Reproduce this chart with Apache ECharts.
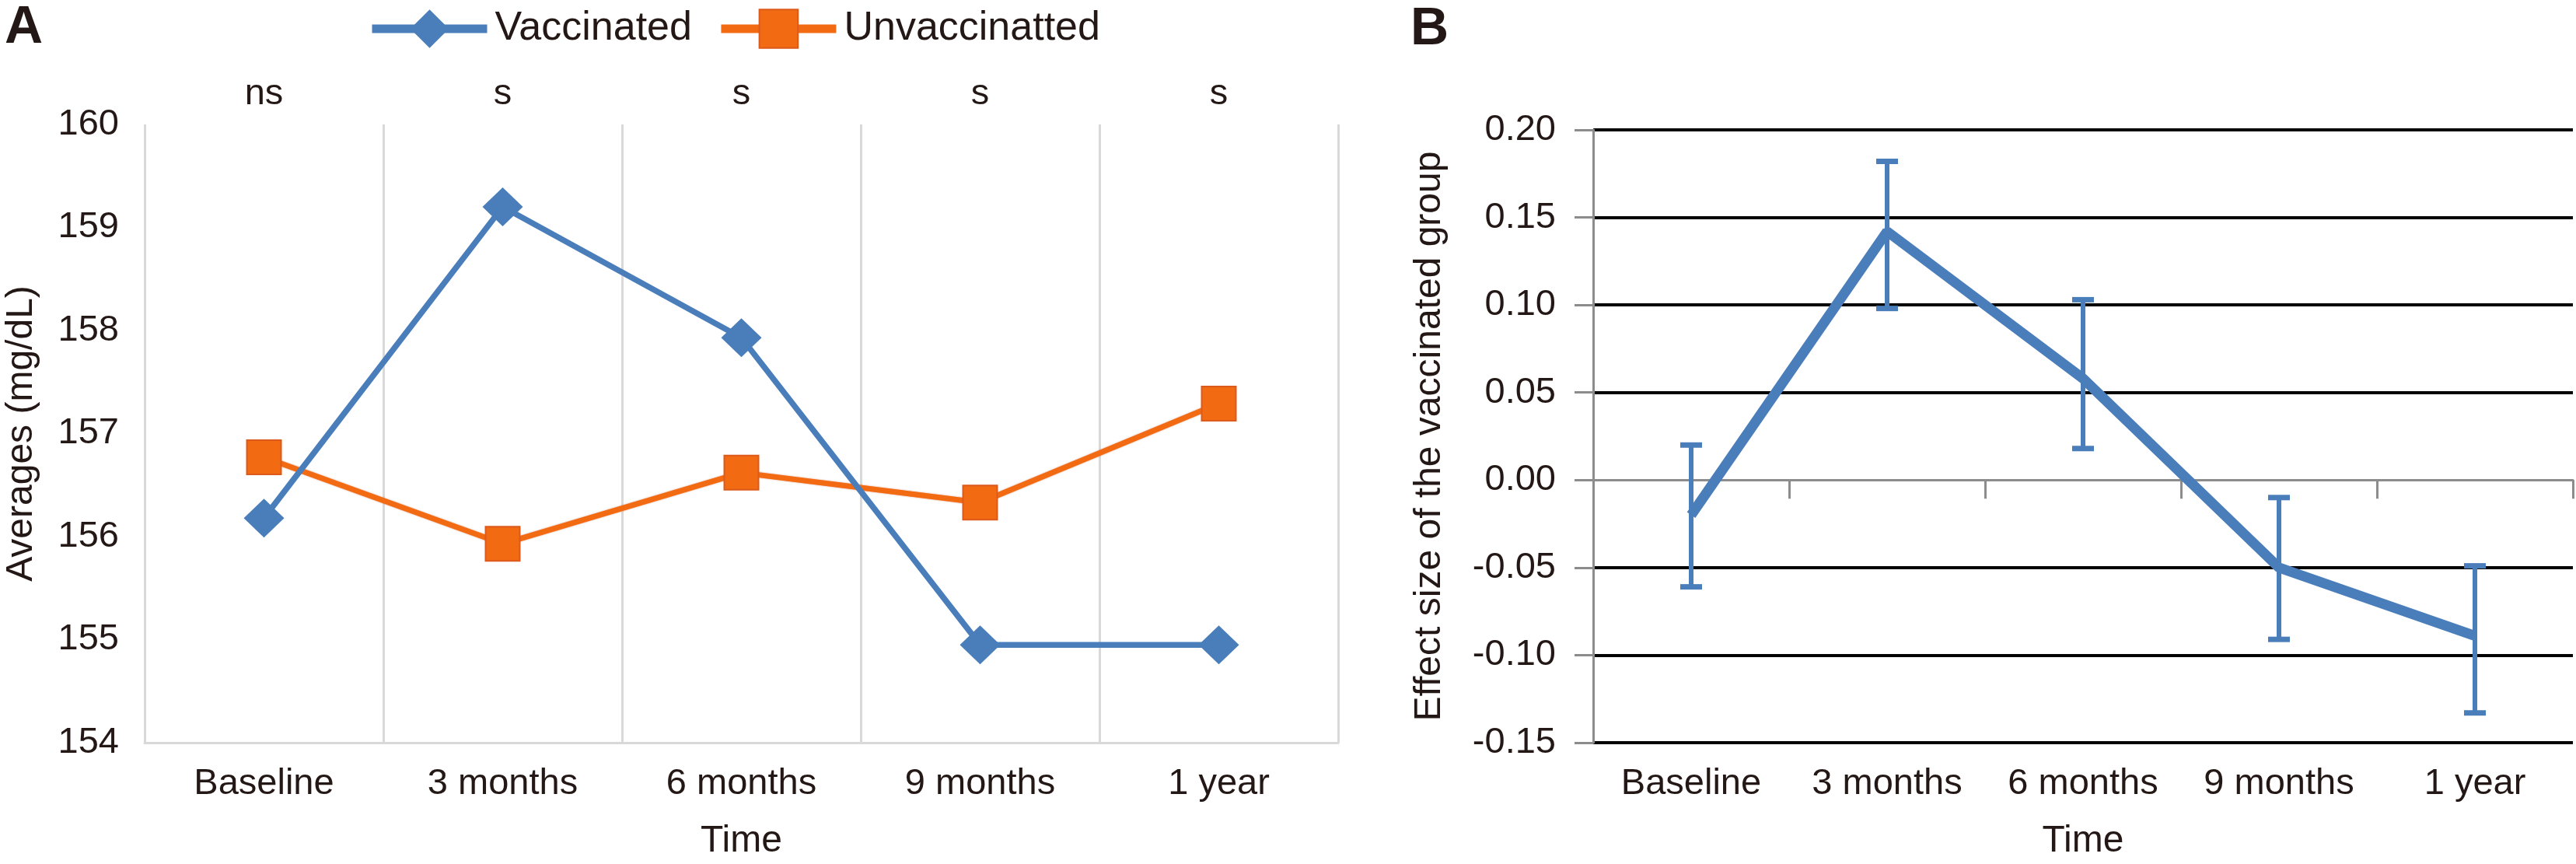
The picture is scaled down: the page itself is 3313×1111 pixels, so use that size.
<!DOCTYPE html>
<html><head><meta charset="utf-8">
<script src="https://cdn.jsdelivr.net/npm/echarts@6/dist/echarts.min.js"></script>
<style>html,body{margin:0;padding:0;background:#fff}#c{width:3313px;height:1111px}</style>
</head><body><div id="c"></div>
<script>
// ---- data ----
const categories = ['Baseline', '3 months', '6 months', '9 months', '1 year'];
const significance = ['ns', 's', 's', 's', 's'];
const seriesNames = ['Vaccinated', 'Unvaccinatted'];
const vaccinated = [156.18, 159.20, 157.93, 154.95, 154.95];
const unvaccinated = [156.77, 155.93, 156.62, 156.33, 157.29];
const effectSize = [-0.020, 0.142, 0.058, -0.050, -0.089];
const effectUpper = [0.020, 0.182, 0.103, -0.010, -0.049];
const effectLower = [-0.061, 0.098, 0.018, -0.091, -0.133];
const panelLabels = ['A', 'B'];

// ---- styles ----
const BLUE = '#4a7ebb';
const ORANGE = '#f26a12';
const TXT = '#231815';
const FONT = 'Liberation Sans';

const chart = echarts.init(document.getElementById('c'), null, {renderer: 'canvas'});

const errorData = categories.map((c, i) => [i, effectLower[i], effectUpper[i]]);

const option = {
  animation: false,
  backgroundColor: '#fff',
  textStyle: {fontFamily: FONT, color: TXT},
  graphic: [
    {type: 'text', left: 6, top: 2, style: {text: panelLabels[0], font: 'bold 68px "Liberation Sans"', fill: TXT}},
    {type: 'text', left: 1814, top: 4, style: {text: panelLabels[1], font: 'bold 68px "Liberation Sans"', fill: TXT}}
  ],
  legend: {
    left: 468, top: 6,
    itemWidth: 148, itemHeight: 62, itemGap: 32,
    data: seriesNames,
    lineStyle: {width: 11},
    textStyle: {fontFamily: FONT, fontSize: 52, color: TXT, padding: [0, 0, 0, 5]}
  },
  grid: [
    {left: 186, top: 160, width: 1535, height: 796},
    {left: 2049, top: 167, width: 1260, height: 788}
  ],
  xAxis: [
    {
      gridIndex: 0, type: 'category', data: categories, boundaryGap: true, position: 'bottom',
      axisLine: {show: true, onZero: false, lineStyle: {color: '#d9d9d9', width: 3}},
      axisTick: {show: false},
      splitLine: {show: true, lineStyle: {color: '#d9d9d9', width: 3}},
      axisLabel: {fontFamily: FONT, fontSize: 47, color: TXT, margin: 30},
      name: 'Time', nameLocation: 'middle', nameGap: 103,
      nameTextStyle: {fontFamily: FONT, fontSize: 48, color: TXT}
    },
    {
      gridIndex: 0, type: 'category', data: significance, boundaryGap: true, position: 'top',
      axisLine: {show: false}, axisTick: {show: false}, splitLine: {show: false},
      axisLabel: {fontFamily: FONT, fontSize: 47, color: TXT, margin: 15}
    },
    {
      gridIndex: 1, type: 'category', data: categories, boundaryGap: true, position: 'bottom',
      axisLine: {show: false, onZero: false},
      axisTick: {show: false}, splitLine: {show: false},
      axisLabel: {fontFamily: FONT, fontSize: 47, color: TXT, margin: 30},
      name: 'Time', nameLocation: 'middle', nameGap: 103,
      nameTextStyle: {fontFamily: FONT, fontSize: 48, color: TXT}
    },
    {
      gridIndex: 1, type: 'category', data: categories, boundaryGap: true, position: 'bottom',
      axisLine: {show: true, onZero: true, lineStyle: {color: '#8c8c8c', width: 3}},
      axisTick: {show: true, length: 24, lineStyle: {color: '#8c8c8c', width: 3}},
      axisLabel: {show: false}, splitLine: {show: false}
    }
  ],
  yAxis: [
    {
      gridIndex: 0, type: 'value', min: 154, max: 160, interval: 1,
      axisLine: {show: false}, axisTick: {show: false}, splitLine: {show: false},
      axisLabel: {fontFamily: FONT, fontSize: 47, color: TXT, margin: 33},
      name: 'Averages (mg/dL)', nameLocation: 'middle', nameGap: 134,
      nameTextStyle: {fontFamily: FONT, fontSize: 48, color: TXT}
    },
    {
      gridIndex: 1, type: 'value', min: -0.15, max: 0.20, interval: 0.05,
      axisLine: {show: true, lineStyle: {color: '#8c8c8c', width: 3}},
      axisTick: {show: true, length: 24, lineStyle: {color: '#8c8c8c', width: 3}},
      splitLine: {show: true, lineStyle: {width: 4, color: ['#000', '#000', '#000', 'rgba(0,0,0,0)', '#000', '#000', '#000', '#000']}},
      axisLabel: {fontFamily: FONT, fontSize: 47, color: TXT, margin: 48,
        formatter: v => (Math.abs(v) < 1e-9 ? 0 : v).toFixed(2)},
      name: 'Effect size of the vaccinated group', nameLocation: 'middle', nameGap: 186,
      nameTextStyle: {fontFamily: FONT, fontSize: 48, color: TXT}
    }
  ],
  series: [
    {
      name: seriesNames[0], type: 'line', xAxisIndex: 0, yAxisIndex: 0, data: vaccinated,
      symbol: 'diamond', symbolSize: [52, 50],
      lineStyle: {color: BLUE, width: 7.5}, itemStyle: {color: BLUE}, z: 3
    },
    {
      name: seriesNames[1], type: 'line', xAxisIndex: 0, yAxisIndex: 0, data: unvaccinated,
      symbol: 'rect', symbolSize: 44,
      lineStyle: {color: ORANGE, width: 7, shadowColor: 'rgba(200,70,20,0.6)', shadowBlur: 2}, itemStyle: {color: ORANGE, borderColor: '#dc5a1c', borderWidth: 2}, z: 2
    },
    {
      name: 'Effect size', type: 'line', xAxisIndex: 2, yAxisIndex: 1, data: effectSize,
      symbol: 'none', lineStyle: {color: BLUE, width: 13}, z: 3
    },
    {
      name: 'CI', type: 'custom', xAxisIndex: 2, yAxisIndex: 1, data: errorData,
      encode: {x: 0, y: [1, 2]}, z: 4,
      renderItem: function (params, api) {
        const x = api.value(0);
        const lo = api.coord([x, api.value(1)]);
        const hi = api.coord([x, api.value(2)]);
        const hw = 14;
        return {
          type: 'group', children: [
            {type: 'line', shape: {x1: lo[0], y1: lo[1], x2: hi[0], y2: hi[1]}, style: {stroke: BLUE, lineWidth: 6}},
            {type: 'line', shape: {x1: lo[0] - hw, y1: lo[1], x2: lo[0] + hw, y2: lo[1]}, style: {stroke: BLUE, lineWidth: 7}},
            {type: 'line', shape: {x1: hi[0] - hw, y1: hi[1], x2: hi[0] + hw, y2: hi[1]}, style: {stroke: BLUE, lineWidth: 7}}
          ]
        };
      }
    }
  ]
};
chart.setOption(option);
</script>
</body></html>
